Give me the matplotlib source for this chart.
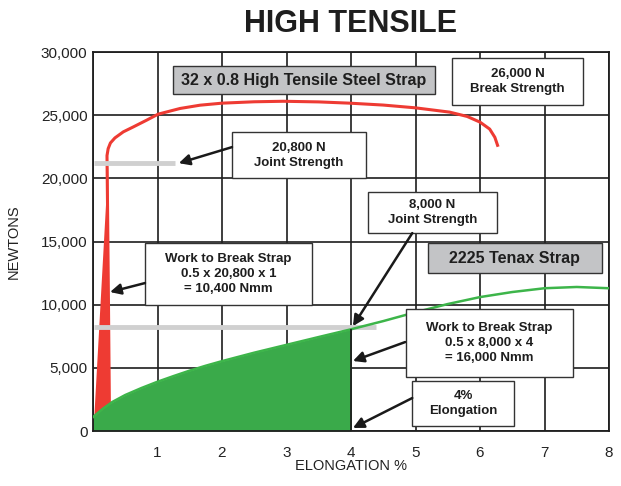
import matplotlib
matplotlib.use("Agg")
import matplotlib.pyplot as plt
import numpy as np
from matplotlib.patches import Rectangle

plt.rcParams["font.family"] = ["Liberation Sans", "DejaVu Sans"]

# steel strap curve (elongation %, newtons)
steel_x = [0.255, 0.24, 0.225, 0.217, 0.235, 0.27, 0.34, 0.47, 0.625, 0.83, 1.01, 1.35,
           1.66, 2.0, 2.5, 2.95, 3.5, 3.98, 4.5, 5.0, 5.53, 5.8, 6.0, 6.15, 6.23, 6.28]
steel_y = [1500, 10000, 18000, 21800, 22350, 22800, 23200, 23680, 24070, 24600, 25080,
           25530, 25790, 25950, 26060, 26100, 26050, 25950, 25800, 25580, 25240, 24900,
           24450, 23900, 23250, 22500]
# red work-to-break triangle
steel_work_x = [0.02, 0.26, 0.235]
steel_work_y = [1100, 1100, 21000]

# tenax strap curve
tenax_x = [0.0, 0.15, 0.3, 0.5, 0.75, 1.0, 1.25, 1.5, 1.75, 2.0, 2.5, 3.0, 3.5, 4.0,
           4.5, 5.0, 5.5, 6.0, 6.5, 7.0, 7.5, 8.0]
tenax_y = [1100, 1750, 2300, 2850, 3400, 3900, 4350, 4780, 5170, 5530, 6200, 6820, 7440,
           8050, 8700, 9400, 10050, 10600, 11000, 11300, 11400, 11300]
tenax_break = 4.0

# joint strength markers: (level, x end)
joint_steel = (21200, 1.27)
joint_tenax = (8250, 4.39)

x_ticks = [0, 1, 2, 3, 4, 5, 6, 7, 8]
x_labels = ["", "1", "2", "3", "4", "5", "6", "7", "8"]
y_ticks = [0, 5000, 10000, 15000, 20000, 25000, 30000]

# label boxes: text, (x0, x1, y0, y1), grey?, fontsize
boxes = [
    ("32 x 0.8 High Tensile Steel Strap", (1.24, 5.30, 26660, 28875), True, 11.5),
    ("26,000 N\nBreak Strength", (5.57, 7.60, 25790, 29510), False, 9.5),
    ("20,800 N\nJoint Strength", (2.155, 4.23, 20015, 23650), False, 9.5),
    ("Work to Break Strap\n0.5 x 20,800 x 1\n= 10,400 Nmm", (0.806, 3.395, 9970, 14870), False, 9.5),
    ("8,000 N\nJoint Strength", (4.26, 6.26, 15665, 18910), False, 9.5),
    ("2225 Tenax Strap", (5.19, 7.89, 12500, 14870), True, 11.5),
    ("Work to Break Strap\n0.5 x 8,000 x 4\n= 16,000 Nmm", (4.85, 7.44, 4270, 9650), False, 9.5),
    ("4%\nElongation", (4.95, 6.53, 395, 3955), False, 9.5),
]

# arrows: (start, tip)
arrows = [
    ((2.155, 22470), (1.33, 21200)),
    ((0.806, 11710), (0.264, 11000)),
    ((4.95, 15665), (4.03, 8300)),
    ((4.84, 7040), (4.03, 5540)),
    ((4.95, 2610), (4.03, 240)),
]

fig = plt.figure(figsize=(6.21, 4.86), dpi=100)
ax = fig.add_axes([93 / 621, 55 / 486, 516 / 621, 379 / 486])

ax.set_xlim(0, 8)
ax.set_ylim(0, 30000)
ax.set_xticks(x_ticks)
ax.set_xticklabels(x_labels)
ax.set_yticks(y_ticks)
ax.set_yticklabels([f"{v:,}" for v in y_ticks])
ax.tick_params(axis="both", length=0, labelsize=11, colors="#222222")
ax.tick_params(axis="x", pad=11)
ax.tick_params(axis="y", pad=4)
ax.grid(True, color="#1e1e1e", lw=1.2, zorder=0.5)
ax.set_axisbelow(True)
for sp in ax.spines.values():
    sp.set_color("#1e1e1e")
    sp.set_linewidth(1.3)

# red steel strap
ax.fill(steel_work_x, steel_work_y, color="#ee3b33", lw=0, zorder=2)
ax.plot(steel_x, steel_y, color="#ee3b33", lw=2.2, zorder=2.1, solid_capstyle="butt")

# grey joint strength lines
ax.hlines(joint_steel[0], 0.02, joint_steel[1], color="#d0d0d0", lw=3.5, zorder=2.3)
ax.hlines(joint_tenax[0], 0.02, joint_tenax[1], color="#d0d0d0", lw=3.5, zorder=2.3)

# green tenax strap
tx = np.array(tenax_x)
ty = np.array(tenax_y)
mask = tx <= tenax_break
ax.fill_between(tx[mask], 0, ty[mask], color="#3aaa4a", lw=0, zorder=2.5)
ax.plot(tx, ty, color="#3db54a", lw=1.8, zorder=2.6)
ax.vlines(tenax_break, 0, ty[mask][-1], color="#1e1e1e", lw=1.3, zorder=2.7)

for text, (x0, x1, y0, y1), grey, fs in boxes:
    ax.add_patch(Rectangle((x0, y0), x1 - x0, y1 - y0,
                           facecolor="#c3c4c6" if grey else "white",
                           edgecolor="#333333", lw=1.0, zorder=4))
    ax.text((x0 + x1) / 2, (y0 + y1) / 2, text, ha="center", va="center",
            fontsize=fs, fontweight="bold", color="#1e1e1e",
            linespacing=1.35, zorder=5)

for start, tip in arrows:
    ax.annotate("", xy=tip, xytext=start,
                arrowprops=dict(arrowstyle="-|>", color="#1a1a1a", lw=1.8,
                                mutation_scale=16, shrinkA=0, shrinkB=0),
                zorder=6)

ax.set_xlabel("ELONGATION %", fontsize=10.5, color="#222222")
ax.set_ylabel("NEWTONS", fontsize=10.5, color="#222222")
ax.xaxis.set_label_coords(0.5, -0.075)
ax.yaxis.set_label_coords(-0.14, 0.5)

fig.text(351 / 621, 1 - 24 / 486, "HIGH TENSILE", ha="center", va="center",
         fontsize=22, fontweight="bold", color="#1e1e1e")

fig.savefig("out.png", dpi=100)
